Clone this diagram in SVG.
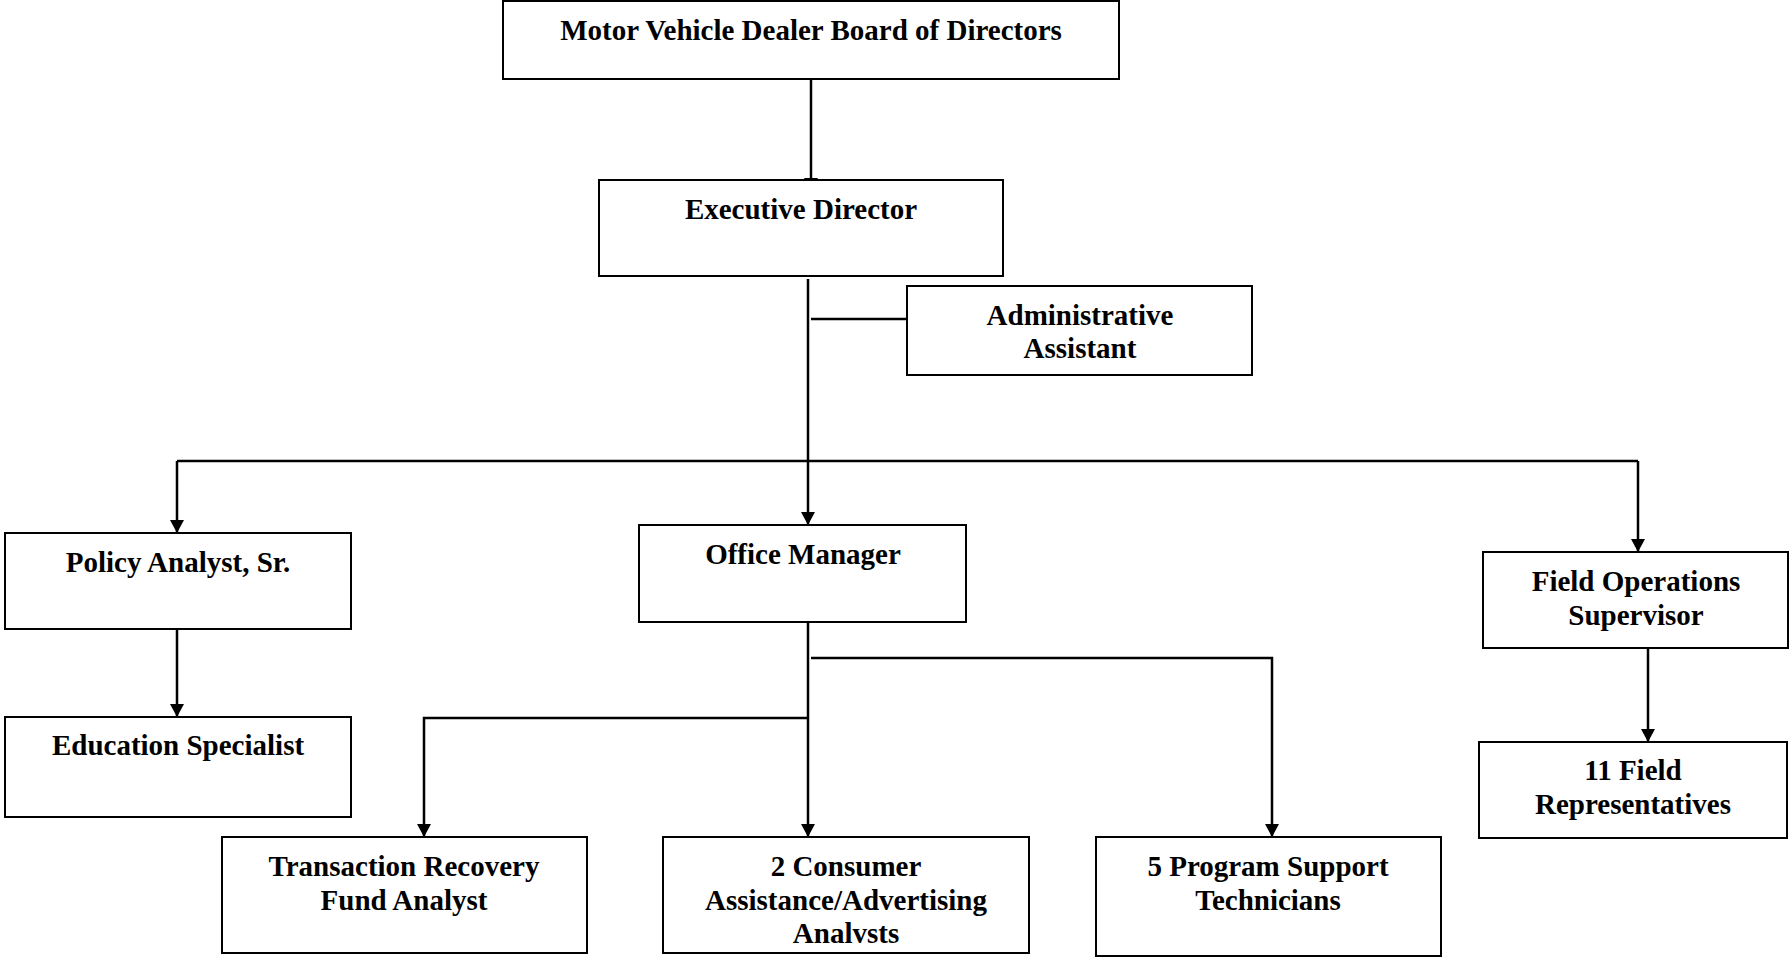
<svg xmlns="http://www.w3.org/2000/svg" width="1790" height="957" viewBox="0 0 1790 957">
<style>
.box{fill:#fff;stroke:#000;stroke-width:2}
.t{font-family:"Liberation Serif","Times New Roman",serif;font-weight:bold;font-size:29px;fill:#000;text-anchor:middle}
.c{fill:none;stroke:#000;stroke-width:2.5}
</style>
<defs>
<marker id="arr" markerUnits="userSpaceOnUse" markerWidth="14" markerHeight="14" refX="13" refY="7" orient="auto">
<path d="M0,0 L13,7 L0,14 z" fill="#000"/>
</marker>
</defs>
<rect width="1790" height="957" fill="#fff"/>
<g id="connectors">
<path class="c" d="M811,79 V191" marker-end="url(#arr)"/>
<path class="c" d="M808,279 V525" marker-end="url(#arr)"/>
<path class="c" d="M811,319 H907"/>
<path class="c" d="M177,461 H1638"/>
<path class="c" d="M177,461 V533" marker-end="url(#arr)"/>
<path class="c" d="M1638,461 V552" marker-end="url(#arr)"/>
<path class="c" d="M177,629 V717" marker-end="url(#arr)"/>
<path class="c" d="M1648,648 V742" marker-end="url(#arr)"/>
<path class="c" d="M808,622 V837" marker-end="url(#arr)"/>
<path class="c" d="M811,658 H1272 V837" marker-end="url(#arr)"/>
<path class="c" d="M808,718 H424 V837" marker-end="url(#arr)"/>
</g>
<g id="board"><rect class="box" x="503" y="1" width="616" height="78"/><text class="t" x="811" y="40">Motor Vehicle Dealer Board of Directors</text></g>
<g id="exec"><rect class="box" x="599" y="180" width="404" height="96"/><text class="t" x="801" y="219">Executive Director</text></g>
<g id="admin"><rect class="box" x="907" y="286" width="345" height="89"/><text class="t" x="1080" y="325">Administrative</text><text class="t" x="1080" y="358">Assistant</text></g>
<g id="policy"><rect class="box" x="5" y="533" width="346" height="96"/><text class="t" x="178" y="572">Policy Analyst, Sr.</text></g>
<g id="education"><rect class="box" x="5" y="717" width="346" height="100"/><text class="t" x="178" y="755">Education Specialist</text></g>
<g id="office"><rect class="box" x="639" y="525" width="327" height="97"/><text class="t" x="803" y="564">Office Manager</text></g>
<g id="fieldops"><rect class="box" x="1483" y="552" width="305" height="96"/><text class="t" x="1636" y="591">Field Operations</text><text class="t" x="1636" y="625">Supervisor</text></g>
<g id="fieldreps"><rect class="box" x="1479" y="742" width="308" height="96"/><text class="t" x="1633" y="780">11 Field</text><text class="t" x="1633" y="814">Representatives</text></g>
<g id="trf"><rect class="box" x="222" y="837" width="365" height="116"/><text class="t" x="404" y="876">Transaction Recovery</text><text class="t" x="404" y="910">Fund Analyst</text></g>
<g id="consumer"><rect class="box" x="663" y="837" width="366" height="116"/><text class="t" x="846" y="876">2 Consumer</text><text class="t" x="846" y="910">Assistance/Advertising</text><text class="t" x="846" y="943">Analvsts</text></g>
<g id="pst"><rect class="box" x="1096" y="837" width="345" height="119"/><text class="t" x="1268" y="876">5 Program Support</text><text class="t" x="1268" y="910">Technicians</text></g>
</svg>
